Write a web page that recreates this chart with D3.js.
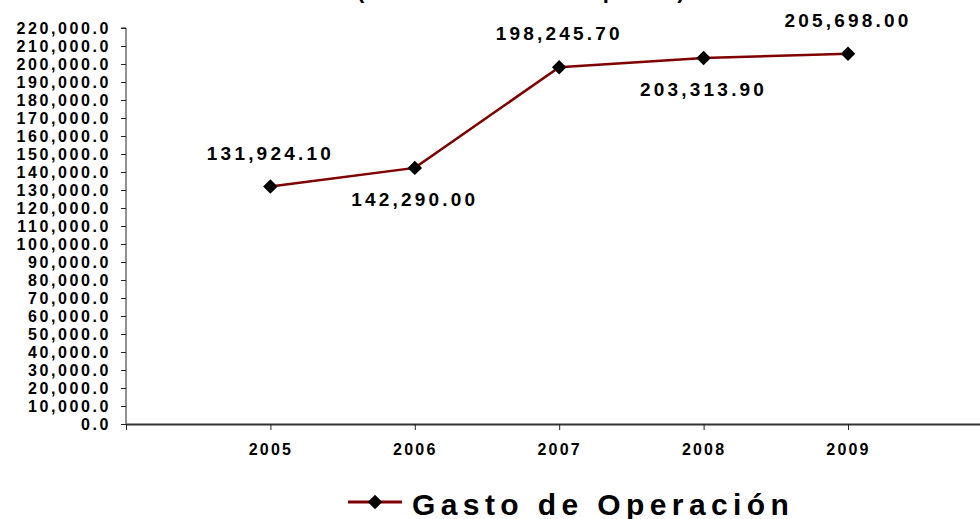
<!DOCTYPE html>
<html>
<head>
<meta charset="utf-8">
<script src="https://cdn.jsdelivr.net/npm/d3@7"></script>
<style>
  body { margin: 0; background: #fff; }
  svg { display: block; font-family: "Liberation Sans", Arial, sans-serif; font-weight: bold; }
</style>
</head>
<body>
<div id="chart"></div>
<script>
// datos del gasto de operación
const years = ["2005", "2006", "2007", "2008", "2009"];
const gasto = [131924.10, 142290.00, 198245.70, 203313.90, 205698.00];
const yTicks = d3.range(0, 220001, 10000);
const seriesName = "Gasto de Operación";
const subTitle = "(Cifras en miles de pesos)";

const width = 980, height = 519;
const plotLeft = 126, plotBottom = 424, plotTop = 28;

const svg = d3.select("#chart").append("svg")
    .attr("width", width)
    .attr("height", height);

// x: one empty slot before the first year, same spacing after
const x = d3.scaleLinear()
    .domain([-1, years.length])
    .range([plotLeft, plotLeft + 6 * 144.4]);

const y = d3.scaleLinear()
    .domain([0, 220000])
    .range([plotBottom, plotTop]);

// title (only the bottom of it is visible in the picture)
svg.append("text")
    .attr("x", 357)
    .attr("y", -2)
    .attr("font-size", 22)
    .attr("letter-spacing", 2.2)
    .text(subTitle);

// y axis
const yAxis = svg.append("g")
    .attr("transform", `translate(${plotLeft},0)`)
    .call(d3.axisLeft(y)
        .tickValues(yTicks)
        .tickSize(5)
        .tickPadding(10)
        .tickFormat(d3.format(",.1f")));
yAxis.selectAll("text")
    .attr("font-size", 16)
    .attr("letter-spacing", 2.6)
    .attr("fill", "#000");
yAxis.selectAll("line, path").attr("stroke", "#222");
yAxis.select(".domain").attr("d", `M-5,${plotTop}H0V${plotBottom}`);

// x axis
const xAxis = svg.append("g")
    .attr("transform", `translate(0,${plotBottom})`)
    .call(d3.axisBottom(x)
        .tickValues(d3.range(-1, years.length))
        .tickSize(6)
        .tickSizeOuter(0)
        .tickPadding(14)
        .tickFormat(i => i >= 0 ? years[i] : ""));
xAxis.selectAll("text")
    .attr("font-size", 16)
    .attr("letter-spacing", 2.2)
    .attr("fill", "#000");
xAxis.selectAll("line").attr("stroke", "#222");
xAxis.select(".domain").attr("stroke", "#333").attr("stroke-width", 2);

// line
const line = d3.line()
    .x((d, i) => x(i))
    .y(d => y(d));

svg.append("path")
    .datum(gasto)
    .attr("fill", "none")
    .attr("stroke", "#800000")
    .attr("stroke-width", 2.5)
    .attr("d", line);

const diamond = d3.symbol().type(d3.symbolSquare).size(105);

svg.selectAll(".mark")
    .data(gasto)
    .join("path")
    .attr("class", "mark")
    .attr("d", diamond)
    .attr("transform", (d, i) => `translate(${x(i)},${y(d)}) rotate(45)`)
    .attr("fill", "#000");

// data labels alternate above / below
svg.selectAll(".lbl")
    .data(gasto)
    .join("text")
    .attr("class", "lbl")
    .attr("x", (d, i) => x(i))
    .attr("y", (d, i) => y(d) + (i % 2 === 0 ? -27 : 38))
    .attr("text-anchor", "middle")
    .attr("font-size", 19)
    .attr("letter-spacing", 3.2)
    .text(d => d3.format(",.2f")(d));

// legend
const lg = svg.append("g").attr("transform", "translate(348,502)");
lg.append("line")
    .attr("x1", 0).attr("x2", 54)
    .attr("stroke", "#800000")
    .attr("stroke-width", 3);
lg.append("path")
    .attr("d", diamond)
    .attr("transform", "translate(27,0) rotate(45)")
    .attr("fill", "#000");
lg.append("text")
    .attr("x", 64)
    .attr("y", 13)
    .attr("font-size", 30)
    .attr("letter-spacing", 5.4)
    .text(seriesName);
</script>
</body>
</html>
